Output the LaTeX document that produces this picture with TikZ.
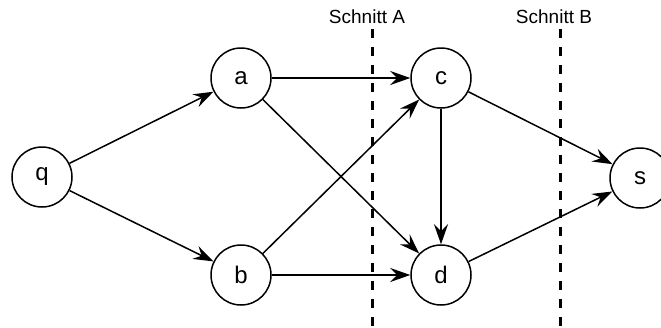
\documentclass[tikz,border=0pt]{standalone}
\usepackage{fontspec}
\setmainfont{Liberation Sans}
\usetikzlibrary{arrows.meta}

\tikzset{
  vertex/.style={circle, draw=black, line width=1.5pt, minimum size=60pt, inner sep=0pt, font=\fontsize{24}{28}\selectfont},
  edge/.style={line width=1.5pt, -{Stealth[length=20pt, width=14pt, inset=7pt]}},
  cutline/.style={line width=3pt, dash pattern=on 9pt off 9pt},
  cutlabel/.style={font=\fontsize{19}{22}\selectfont, inner sep=0pt}
}

\begin{document}
\begin{tikzpicture}[x=1pt, y=-1pt]
  \useasboundingbox (0,0) rectangle (661,327);

  % cut lines with their labels
  \node[cutlabel] (labA) at (367,17) {Schnitt A};
  \node[cutlabel] (labB) at (554,17) {Schnitt B};
  \coordinate (cutAtop) at (372,29);
  \coordinate (cutAbot) at (372,330);
  \coordinate (cutBtop) at (560,29);
  \coordinate (cutBbot) at (560,330);
  \draw[cutline] (cutAtop) -- (cutAbot);
  \draw[cutline] (cutBtop) -- (cutBbot);

  % vertices
  \node[vertex] (q) at (42,177) {q};
  \node[vertex] (a) at (241,78) {a};
  \node[vertex] (b) at (241,275) {b};
  \node[vertex] (c) at (441,78) {c};
  \node[vertex] (d) at (441,275) {d};
  \node[vertex] (s) at (640,178) {s};

  % edges
  \draw[edge] (q) -- (a);
  \draw[edge] (q) -- (b);
  \draw[edge] (a) -- (c);
  \draw[edge] (a) -- (d);
  \draw[edge] (b) -- (c);
  \draw[edge] (b) -- (d);
  \draw[edge] (c) -- (d);
  \draw[edge] (c) -- (s);
  \draw[edge] (d) -- (s);
\end{tikzpicture}
\end{document}
